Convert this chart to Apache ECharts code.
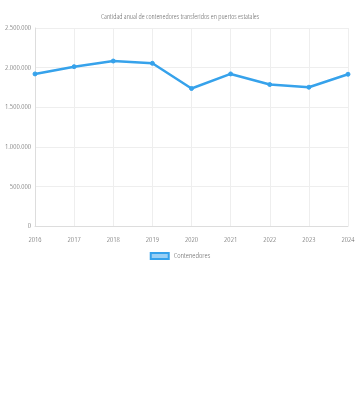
<!DOCTYPE html>
<html><head><meta charset="utf-8">
<script src="https://cdn.jsdelivr.net/npm/echarts@6/dist/echarts.min.js"></script>
<style>html,body{margin:0;padding:0;background:#fff}#c{width:360px;height:400px}</style>
</head><body><div id="c"></div>
<script>
const titleText = 'Cantidad anual de contenedores transferidos en puertos estatales';
const seriesName = 'Contenedores';
const years = ['2016','2017','2018','2019','2020','2021','2022','2023','2024'];
const containers = [1920000, 2012000, 2083000, 2054000, 1736000, 1920000, 1786000, 1752000, 1916000];

const font = '"Open Sans", sans-serif';
const fw = '300 condensed';
const fmt = v => String(v).replace(/\B(?=(\d{3})+(?!\d))/g, '.');
const chart = echarts.init(document.getElementById('c'));
chart.setOption({
  animation: false,
  title: {text: titleText, left: 'center', top: 8,
    textStyle: {fontFamily: font, fontSize: 7.4, fontWeight: fw, color: '#666'}},
  grid: {left: 35, right: 12, top: 28, bottom: 174, containLabel: false},
  xAxis: {type: 'category', data: years, boundaryGap: false,
    axisLine: {lineStyle: {color: '#ddd'}}, axisTick: {show: false},
    splitLine: {show: true, lineStyle: {color: '#eee'}},
    axisLabel: {fontFamily: font, fontSize: 8, fontWeight: fw, color: '#666', margin: 10, showMinLabel: true, showMaxLabel: true}},
  yAxis: {type: 'value', min: 0, max: 2500000, interval: 500000,
    axisLine: {show: true, lineStyle: {color: '#ddd'}}, axisTick: {show: false},
    splitLine: {lineStyle: {color: '#eee'}},
    axisLabel: {fontFamily: font, fontSize: 8, fontWeight: fw, color: '#666', margin: 4, formatter: fmt,
      verticalAlign: 'middle', padding: [2, 0, 0, 0]}},
  legend: {top: 247, left: 'center', itemWidth: 18, itemHeight: 6, itemGap: 10,
    textStyle: {fontFamily: font, fontSize: 8, fontWeight: fw, color: '#666'},
    data: [{name: seriesName, icon: 'rect',
      itemStyle: {color: 'rgba(54,162,235,0.5)', borderColor: '#36A2EB', borderWidth: 2}}]},
  series: [{name: seriesName, type: 'line', data: containers,
    symbol: 'circle', symbolSize: 4,
    lineStyle: {color: '#36A2EB', width: 2.5},
    itemStyle: {color: '#36A2EB', borderColor: '#36A2EB'}}]
});
</script></body></html>
